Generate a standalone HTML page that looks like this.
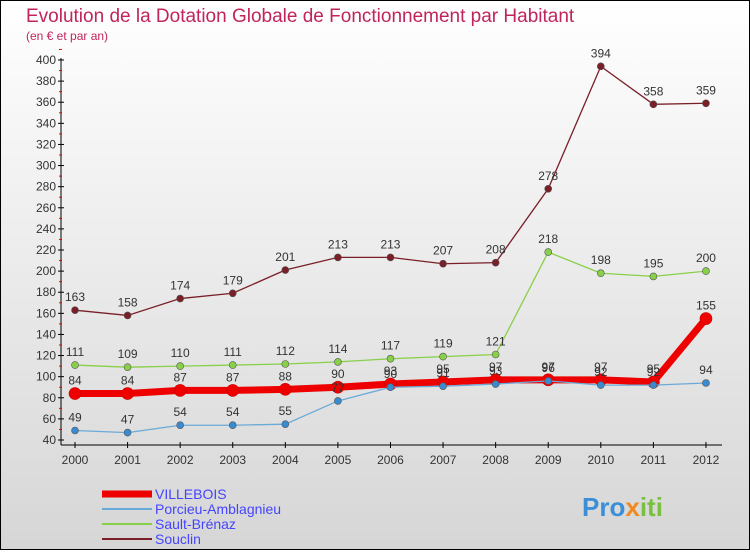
<!DOCTYPE html>
<html><head><meta charset="utf-8"><style>
body{margin:0}
svg text{font-family:"Liberation Sans",sans-serif}
</style></head><body>
<svg width="750" height="550" xmlns="http://www.w3.org/2000/svg">
<defs><linearGradient id="bg" x1="0" y1="0" x2="0" y2="1"><stop offset="0" stop-color="#ffffff"/><stop offset="1" stop-color="#d6d6d6"/></linearGradient></defs>
<rect x="0.5" y="0.5" width="749" height="549" fill="url(#bg)" stroke="#000"/>
<text x="26" y="22" font-size="19" fill="#c0245c">Evolution de la Dotation Globale de Fonctionnement par Habitant</text>
<text x="26" y="40" font-size="12" fill="#c0245c">(en € et par an)</text>
<g id="axes"></g><g id="series"></g>
<g>
<line x1="102" y1="494" x2="152" y2="494" stroke="#ee0000" stroke-width="7"/>
<text x="155" y="499" font-size="14" fill="#4444ff">VILLEBOIS</text>
<line x1="102" y1="509" x2="152" y2="509" stroke="#6aaad8" stroke-width="2"/>
<text x="155" y="514" font-size="14" fill="#4444ff">Porcieu-Amblagnieu</text>
<line x1="102" y1="524" x2="152" y2="524" stroke="#88d048" stroke-width="2"/>
<text x="155" y="529" font-size="14" fill="#4444ff">Sault-Brénaz</text>
<line x1="102" y1="539" x2="152" y2="539" stroke="#7a1f28" stroke-width="2"/>
<text x="155" y="544" font-size="14" fill="#4444ff">Souclin</text>
</g>
<text x="582" y="516" font-size="26" font-weight="bold" fill="#3a8fd8">Pro<tspan fill="#f08a20">x</tspan><tspan fill="#7ac040">iti</tspan></text>
</svg>
<script>
const years=[2000,2001,2002,2003,2004,2005,2006,2007,2008,2009,2010,2011,2012];
const villebois=[84,84,87,87,88,90,93,95,97,97,97,95,155];
const porcieu=[49,47,54,54,55,77,90,91,93,96,92,92,94];
const sault=[111,109,110,111,112,114,117,119,121,218,198,195,200];
const souclin=[163,158,174,179,201,213,213,207,208,278,394,358,359];
const yTicks=[40,60,80,100,120,140,160,180,200,220,240,260,280,300,320,340,360,380,400];
const NS="http://www.w3.org/2000/svg";
const X=i=>75+i*52.58, Y=v=>440-(v-40)*(380/360);
function mk(p,t,a){const e=document.createElementNS(NS,t);for(const k in a)e.setAttribute(k,a[k]);p.appendChild(e);return e;}
const ax=document.getElementById('axes');
mk(ax,'line',{x1:61,y1:58,x2:61,y2:445,stroke:'#000'});
mk(ax,'line',{x1:61,y1:445,x2:722,y2:445,stroke:'#000'});
yTicks.forEach(v=>{mk(ax,'line',{x1:58,y1:Y(v),x2:64,y2:Y(v),stroke:'#000'});
 mk(ax,'line',{x1:59,y1:Y(v+10),x2:62,y2:Y(v+10),stroke:'#e00'});
 const t=mk(ax,'text',{x:56,y:Y(v)+4,'font-size':12,'text-anchor':'end',fill:'#333'});t.textContent=v;
 });
years.forEach((y,i)=>{mk(ax,'line',{x1:X(i),y1:442,x2:X(i),y2:448,stroke:'#000'});
 const t=mk(ax,'text',{x:X(i),y:464,'font-size':12,'text-anchor':'middle',fill:'#333'});t.textContent=y;
 });
const sg=document.getElementById('series');
function draw(name,d,col,w,r,dotCol){
 const g=mk(sg,'g',{});
 mk(g,'polyline',{points:d.map((v,i)=>X(i)+','+Y(v)).join(' '),fill:'none',stroke:col,'stroke-width':w});
 d.forEach((v,i)=>{const c=mk(g,'circle',{cx:X(i),cy:Y(v),r:r,fill:dotCol,stroke:col==='#ee0000'?'#c00':'#555','stroke-width':0.6});
  
  const t=mk(g,'text',{x:X(i),y:Y(v)-9,'font-size':12,'text-anchor':'middle',fill:'#333'});t.textContent=v;});
}
draw('souclin',souclin,'#7a1f28',1.3,3.5,'#7a1f28');
draw('sault-brenaz',sault,'#88d048',1.3,3.5,'#88d048');
draw('villebois',villebois,'#ee0000',7,6,'#ee0000');
draw('porcieu-amblagnieu',porcieu,'#6aaad8',1.3,3.5,'#3a8ad0');
</script>
</body></html>
